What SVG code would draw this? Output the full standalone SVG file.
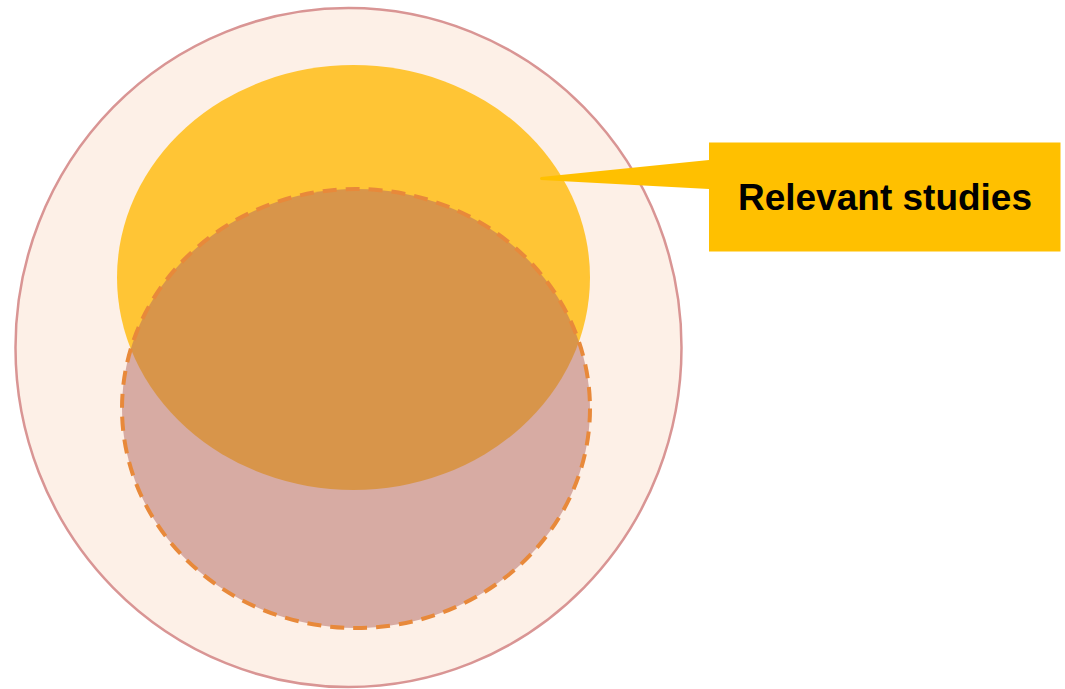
<svg xmlns="http://www.w3.org/2000/svg" width="1065" height="689" viewBox="0 0 1065 689">
<style>
.outer{fill:#FDF0E7;stroke:#D99594;stroke-width:2.5}
.relevant{fill:#FFC535}
.found{fill:rgb(177,102,95);fill-opacity:0.5;stroke:#E8893A;stroke-width:4;stroke-dasharray:14 9}
.callout{fill:#FFC000}
.label{font-family:"Liberation Sans",Arial,sans-serif;font-weight:bold;font-size:37px;fill:#000}
</style>
<rect width="1065" height="689" fill="#ffffff"/>
<g id="outer-circle"><ellipse class="outer" cx="348.5" cy="347.5" rx="333" ry="339.5"/></g>
<g id="relevant-ellipse"><ellipse class="relevant" cx="353.5" cy="277.5" rx="236.5" ry="212.5"/></g>
<g id="search-ellipse"><ellipse class="found" cx="356" cy="408.5" rx="234" ry="219.5"/></g>
<g id="callout">
<path class="callout" d="M709,142.5 H1060.5 V251.5 H709 V189 L541,180 Q539,178.5 541,177 L709,160 Z"/>
<text class="label" x="885" y="210" text-anchor="middle">Relevant studies</text>
</g>
<g id="connectors"></g>
</svg>
